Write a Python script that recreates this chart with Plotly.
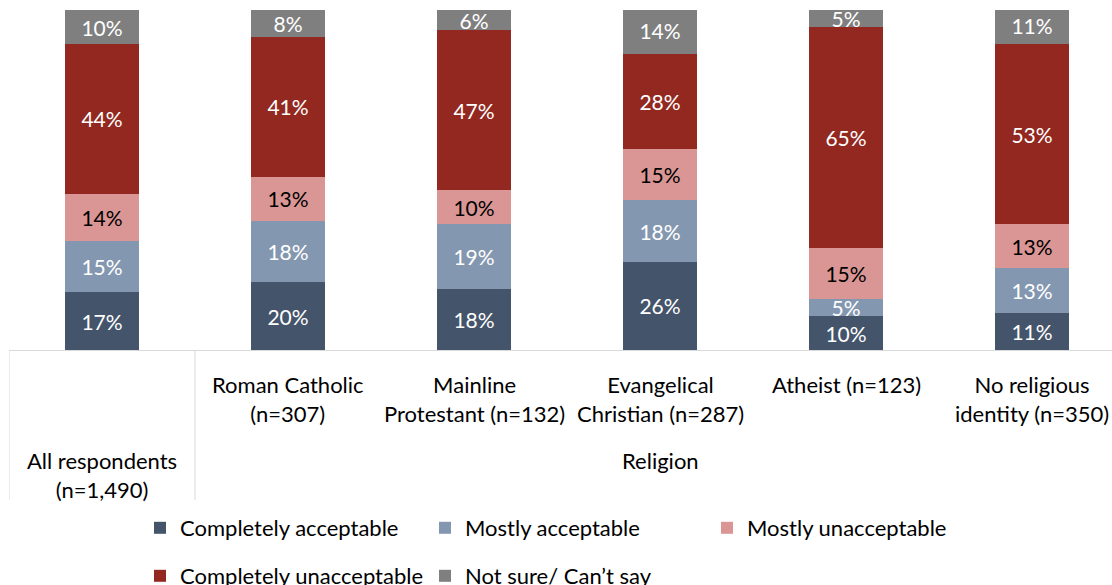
import plotly.graph_objects as go

categories = ["All respondents", "Roman Catholic", "Mainline Protestant",
              "Evangelical Christian", "Atheist", "No religious identity"]
tick_labels = ["All respondents<br>(n=1,490)", "Roman Catholic<br>(n=307)",
               "Mainline<br>Protestant (n=132)", "Evangelical<br>Christian (n=287)",
               "Atheist (n=123)", "No religious<br>identity (n=350)"]
group_label = "Religion"

completely_acceptable = [17, 20, 18, 26, 10, 11]
mostly_acceptable = [15, 18, 19, 18, 5, 13]
mostly_unacceptable = [14, 13, 10, 15, 15, 13]
completely_unacceptable = [44, 41, 47, 28, 65, 53]
not_sure = [10, 8, 6, 14, 5, 11]

series = [
    ("Completely acceptable", completely_acceptable, "#44546A", "white"),
    ("Mostly acceptable", mostly_acceptable, "#8497B0", "white"),
    ("Mostly unacceptable", mostly_unacceptable, "#DA9694", "black"),
    ("Completely unacceptable", completely_unacceptable, "#922820", "white"),
    ("Not sure/ Can\u2019t say", not_sure, "#7F7F7F", "white"),
]

FONT = "Lato"
W, H = 1112, 585
ML, MT, MB = 9, 10, 235
PH = H - MT - MB


def py(p):
    return (H - MB - p) / PH


def px(p):
    return (p - ML) / (W - ML)


# marker centre positions (pixels) of each legend entry
legend_pos = [(160, 528), (445, 528), (727, 528), (160, 576), (445, 576)]
legend_names = ["legend", "legend2", "legend3", "legend4", "legend5"]

fig = go.Figure()
for i, (name, vals, color, tcolor) in enumerate(series):
    fig.add_trace(go.Bar(
        name=name, x=categories, y=vals,
        marker=dict(color=color, line=dict(width=0)),
        texttemplate="%{y}%", textposition="inside", insidetextanchor="middle",
        textangle=0, constraintext="none",
        textfont=dict(family=FONT, size=21, color=tcolor),
        legend=legend_names[i], hoverinfo="skip",
    ))

layout_legends = {}
for i, ln in enumerate(legend_names):
    lx, ly = legend_pos[i]
    layout_legends[ln] = dict(
        x=px(lx - 20), y=py(ly), xanchor="left", yanchor="middle",
        orientation="h", font=dict(family=FONT, size=22, color="black"),
        bgcolor="rgba(0,0,0,0)", borderwidth=0, itemwidth=30,
        tracegroupgap=0,
    )

ann = []
for cat, lab in zip(categories, tick_labels):
    top = 445 if cat == "All respondents" else 369
    ann.append(dict(x=cat, y=py(top), xref="x", yref="paper", text=lab,
                    showarrow=False, yanchor="top", xanchor="center",
                    font=dict(family=FONT, size=22, color="black")))
ann.append(dict(x=3, y=py(445), xref="x", yref="paper", text=group_label,
                showarrow=False, yanchor="top", xanchor="center",
                font=dict(family=FONT, size=22, color="black")))

shapes = []
for xv in [-0.5, 0.5]:
    shapes.append(dict(type="line", xref="x", yref="paper", x0=xv, x1=xv,
                       y0=0, y1=py(500), line=dict(color="#D9D9D9", width=1)))

fig.update_layout(
    width=W, height=H, barmode="stack", bargap=0.6,
    margin=dict(l=ML, r=0, t=MT, b=MB, autoexpand=False),
    plot_bgcolor="white", paper_bgcolor="white",
    showlegend=True,
    xaxis=dict(type="category", range=[-0.5, -0.5 + (W - ML) / 186],
               showticklabels=False, showline=True, linecolor="#D9D9D9",
               linewidth=1, ticks="", showgrid=False, zeroline=False,
               fixedrange=True),
    yaxis=dict(range=[0, 100], visible=False, showgrid=False, zeroline=False,
               fixedrange=True),
    uniformtext=dict(minsize=21, mode="show"),
    annotations=ann, shapes=shapes,
    **layout_legends,
)

fig.write_html("out.html",
               config={"displayModeBar": False},
               post_script="document.body.style.margin='0';"
                           "document.body.style.overflow='hidden';")
